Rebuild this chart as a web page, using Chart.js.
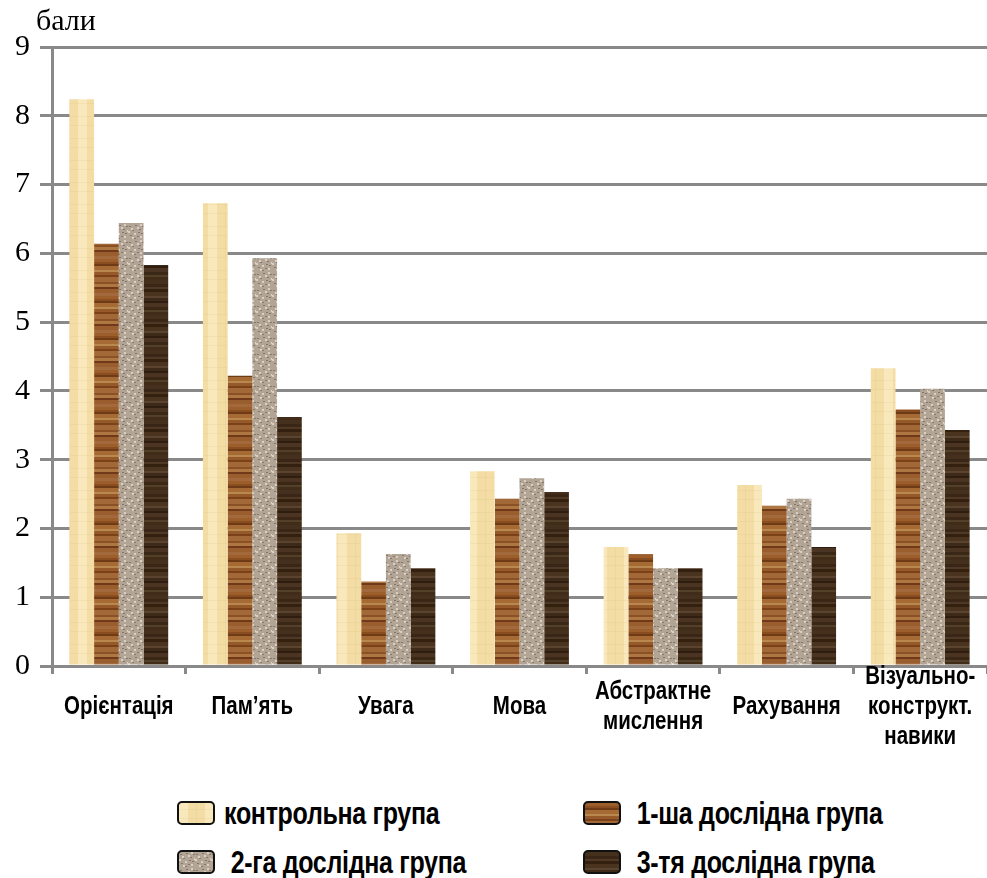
<!DOCTYPE html>
<html>
<head>
<meta charset="utf-8">
<script src="https://cdn.jsdelivr.net/npm/chart.js@4.4.1/dist/chart.umd.min.js"></script>
<style>
  html, body { margin: 0; padding: 0; background: #fff; }
  #wrap { position: relative; width: 987px; height: 878px; overflow: hidden; }
  #chart { position: absolute; left: 0; top: 0; }
  #unit {
    position: absolute; left: 36px; top: 3px;
    font: 30px "Liberation Serif", "Times New Roman", serif; color: #000;
  }
  .leg { position: absolute; display: flex; align-items: center; height: 30px;
    font: bold 25px "Liberation Sans", Arial, sans-serif; color: #000; white-space: pre; }
  .leg .box { width: 34px; height: 20px; border: 2px solid #111; border-radius: 5px;
    margin-right: 9px; flex: none; }
  .leg .txt { display: inline-block; transform: scaleY(1.25); letter-spacing: -0.3px; }
</style>
</head>
<body>
<div id="wrap">
  <canvas id="chart" width="987" height="780"></canvas>
  <div id="unit">бали</div>
  <div class="leg" style="left:177px; top:798px;"><span class="box" id="lb0"></span><span class="txt">контрольна група</span></div>
  <div class="leg" style="left:583px; top:798px;"><span class="box" id="lb1"></span><span class="txt"> 1-ша дослідна група</span></div>
  <div class="leg" style="left:177px; top:847px;"><span class="box" id="lb2"></span><span class="txt"> 2-га дослідна група</span></div>
  <div class="leg" style="left:583px; top:847px;"><span class="box" id="lb3"></span><span class="txt"> 3-тя дослідна група</span></div>
</div>
<script>
"use strict";

// ── Data ─────────────────────────────────────────────────────────────────────
const categories = [
  "Орієнтація", "Пам’ять", "Увага", "Мова",
  ["Абстрактне", "мислення"], "Рахування",
  ["Візуально-", "конструкт.", "навики"],
];
const seriesNames = ["контрольна група", "1-ша дослідна група", "2-га дослідна група", "3-тя дослідна група"];
const controlGroup = [8.24, 6.73, 1.93, 2.83, 1.73, 2.63, 4.33];
const exp1Group    = [6.14, 4.22, 1.23, 2.43, 1.63, 2.33, 3.73];
const exp2Group    = [6.44, 5.93, 1.63, 2.73, 1.42, 2.43, 4.03];
const exp3Group    = [5.83, 3.62, 1.42, 2.53, 1.42, 1.73, 3.43];
const yMin = 0, yMax = 9, yStep = 1;

// ── Textures (canvas patterns) ───────────────────────────────────────────────
function tile(w, h, draw) {
  const c = document.createElement("canvas");
  c.width = w; c.height = h;
  draw(c.getContext("2d"), w, h);
  return c;
}

// horizontal grain: list of [colour, height]
function grain(list) {
  return (g, w) => {
    let y = 0;
    list.forEach(([col, bh]) => { g.fillStyle = col; g.fillRect(0, y, w, bh); y += bh; });
  };
}
const sumH = list => list.reduce((a, b) => a + b[1], 0);

const papyrus = tile(26, 22, (g, w, h) => {
  g.fillStyle = "#f3dda4"; g.fillRect(0, 0, w, h);
  g.fillStyle = "rgba(255,246,214,0.45)"; g.fillRect(0, 0, 9, h);
  g.fillStyle = "rgba(214,186,120,0.16)"; g.fillRect(0, 6, w, 1); g.fillRect(0, 15, w, 1); g.fillRect(17, 0, 1, h);
});

const lightGrain = [
  ["#9c5f2b", 3], ["#8a4d1f", 2], ["#6f3a16", 2], ["#a66a35", 4], ["#b8884f", 2],
  ["#95592a", 3], ["#7b4219", 2], ["#a36838", 5], ["#8b5126", 2], ["#ae7741", 3],
  ["#70391a", 2], ["#9a5e2e", 4], ["#a26a3c", 3],
];
const woodLight = tile(8, sumH(lightGrain), grain(lightGrain));

const darkGrain = [
  ["#45301d", 4], ["#3a2616", 3], ["#4f3824", 2], ["#33200f", 3], ["#4a3420", 4],
  ["#5a4430", 2], ["#3e2a18", 3], ["#2f1e10", 2], ["#4b3421", 4], ["#3a2715", 3],
  ["#524029", 2], ["#412c19", 3],
];
const woodDark = tile(8, sumH(darkGrain), grain(darkGrain));

const granite = tile(16, 16, (g, w, h) => {
  g.fillStyle = "#b2a595"; g.fillRect(0, 0, w, h);
  const dark  = [[1,2],[7,1],[4,6],[11,5],[2,11],[9,12],[13,9],[6,14],[14,2],[10,8]];
  const light = [[3,4],[9,3],[6,9],[12,0],[0,7],[12,12],[4,13],[15,6]];
  g.fillStyle = "#85786b"; dark.forEach(([x, y]) => g.fillRect(x, y, 2, 1));
  g.fillStyle = "#d9cfc3"; light.forEach(([x, y]) => g.fillRect(x, y, 2, 2));
});

const ctx = document.getElementById("chart").getContext("2d");
const textures = [papyrus, woodLight, granite, woodDark];
const patterns = textures.map(t => ctx.createPattern(t, "repeat"));
textures.forEach((t, i) => {
  document.getElementById("lb" + i).style.backgroundImage = `url(${t.toDataURL()})`;
});
document.getElementById("lb0").style.backgroundColor = "#f6e2b6";

// ── Tall, condensed-looking category labels: stretch x tick text vertically ──
const LABEL_MID = 707, LABEL_STRETCH = 1.25;
const tallXLabels = {
  id: "tallXLabels",
  beforeDraw(chart) {
    const sc = chart.scales.x;
    if (sc._tallPatched) return;
    const orig = sc.drawLabels.bind(sc);
    sc.drawLabels = area => {
      const c = chart.ctx;
      c.save();
      c.translate(0, LABEL_MID);
      c.scale(1, LABEL_STRETCH);
      c.translate(0, -LABEL_MID);
      orig(area);
      c.restore();
    };
    sc._tallPatched = true;
  },
};

// ── Chart ────────────────────────────────────────────────────────────────────
const GRID = "#898989";
const seriesData = [controlGroup, exp1Group, exp2Group, exp3Group];

new Chart(ctx, {
  type: "bar",
  data: {
    labels: categories,
    datasets: seriesData.map((vals, i) => ({
      label: seriesNames[i],
      data: vals,
      backgroundColor: patterns[i],
      borderWidth: 0,
      categoryPercentage: 0.74,
      barPercentage: 1.0,
    })),
  },
  options: {
    responsive: false,
    animation: false,
    layout: { padding: { left: 0, right: 0, top: 47, bottom: 0 } },
    plugins: { legend: { display: false }, tooltip: { enabled: false } },
    scales: {
      x: {
        grid: { offset: true, drawOnChartArea: false, color: GRID, lineWidth: 3, tickLength: 8 },
        border: { color: GRID, width: 3 },
        ticks: {
          color: "#000",
          maxRotation: 0,
          autoSkip: false,
          padding: 9,
          crossAlign: "center",
          font: { family: "'Liberation Sans', Arial, sans-serif",
                  size: 20.5, weight: "bold", lineHeight: 1.17 },
        },
        afterFit: s => { s.height = 114; },
      },
      y: {
        min: yMin, max: yMax,
        grid: { color: GRID, lineWidth: 3, tickLength: 12 },
        border: { color: GRID, width: 3 },
        ticks: {
          stepSize: yStep,
          color: "#000",
          padding: 10,
          font: { family: "'Liberation Serif', 'Times New Roman', serif", size: 30 },
        },
        afterFit: s => { s.width = 52; },
      },
    },
  },
  plugins: [tallXLabels],
});
</script>
</body>
</html>
